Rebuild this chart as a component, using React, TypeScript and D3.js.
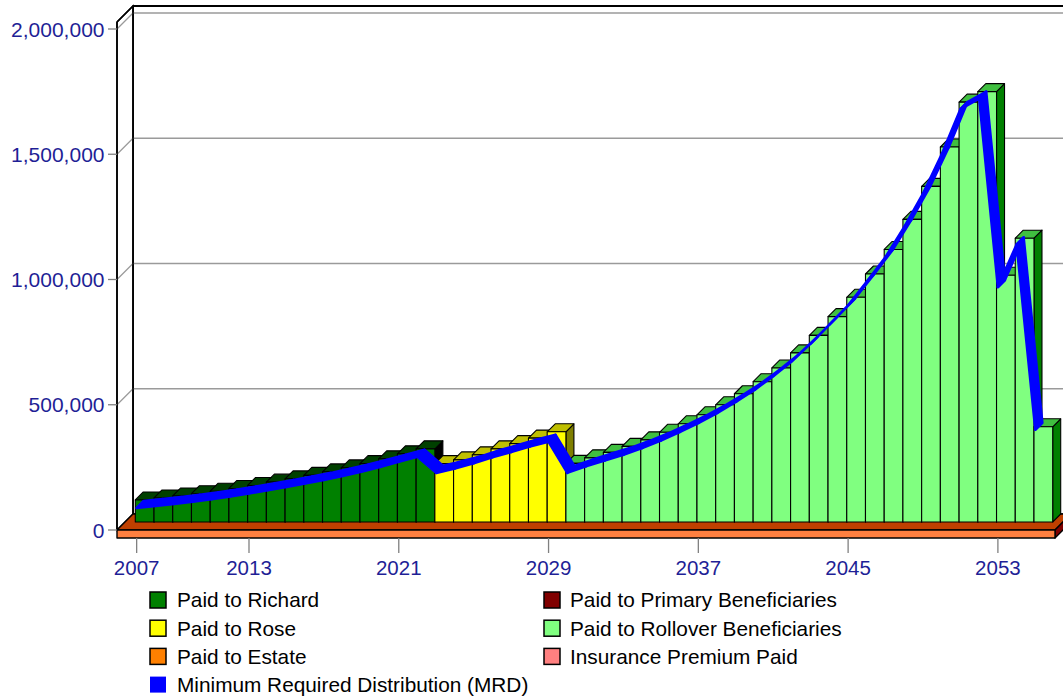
import React from 'react';
import * as d3 from 'd3';

// ---------- data ----------
const years: number[] = d3.range(2007, 2056);

const richardStart = 2007;
const paidRichard = [88000, 96000, 104000, 113000, 123000, 134000, 146000, 159000, 172000, 186000, 200000, 216000, 233000, 252000, 272000, 292000];

const roseStart = 2023;
const paidRose = [233000, 248000, 268000, 292000, 313000, 335000, 360000];

const rolloverStart = 2030;
const paidRollover = [234000, 256000, 278000, 302000, 328000, 358000, 392000, 428000, 468000, 512000, 560000, 615000, 675000, 745000, 820000, 897000, 990000, 1088000, 1208000, 1340000, 1497000, 1676000, 1718000, 985000, 1133000, 380000];

const mrdValues = [
  88000, 96000, 104000, 113000, 123000, 134000, 146000, 159000, 172000, 186000, 200000, 216000, 233000, 252000, 272000, 292000,
  228000, 246000, 266000, 290000, 311000, 333000, 352000,
  228000, 254000, 277000, 300000, 327000, 357000, 391000, 427000, 467000, 511000, 559000, 614000, 674000, 744000, 820000, 897000, 992000, 1090000, 1210000, 1343000, 1500000, 1680000, 1722000, 970000, 1140000, 400000,
];

const xTickYears = [2007, 2013, 2021, 2029, 2037, 2045, 2053];
const yTicks = [0, 500000, 1000000, 1500000, 2000000];

const seriesKeys = ['richard', 'rose', 'rollover'];
const seriesColors: Record<string, string> = { richard: '#008000', rose: '#ffff00', rollover: '#80ff80' };

const legendCol1 = [
  { label: 'Paid to Richard', color: '#008000', border: true },
  { label: 'Paid to Rose', color: '#ffff00', border: true },
  { label: 'Paid to Estate', color: '#ff8000', border: true },
  { label: 'Minimum Required Distribution (MRD)', color: '#0000ff', border: false },
];
const legendCol2 = [
  { label: 'Paid to Primary Beneficiaries', color: '#800000', border: true },
  { label: 'Paid to Rollover Beneficiaries', color: '#80ff80', border: true },
  { label: 'Insurance Premium Paid', color: '#ff8080', border: true },
];

// ---------- helpers ----------
function valueAt(arr: number[], start: number, yr: number) {
  const i = yr - start;
  return i >= 0 && i < arr.length ? arr[i] : 0;
}
function shade(hex: string, amt: number) {
  const c = d3.rgb(hex);
  return d3.rgb(Math.max(0, c.r - amt), Math.max(0, c.g - amt), Math.max(0, c.b - amt)).formatHex();
}
const pts = (p: number[][]) => p.map((q) => q.join(',')).join(' ');

const FONT = '"Liberation Sans", Arial, sans-serif';
const AXIS_COLOR = '#1f1f96';

export default function App() {
  const W = 1063, H = 698;
  const D = 16; // wall depth
  const B0 = 8, B1 = 16; // bar depth span
  const RIB = 7; // MRD ribbon depth
  const floorH = 8;

  const x = d3.scaleBand<number>().domain(years).range([117, 1055]).paddingInner(0).paddingOuter(0.55);
  const y = d3.scaleLinear().domain([0, 2000000]).range([530, 29]);
  const bw = x.bandwidth();
  const [fx0, fx1] = x.range();
  const y0 = y(0);
  const yTop = y(2000000) - 7;

  const table = years.map((yr) => ({
    year: yr,
    richard: valueAt(paidRichard, richardStart, yr),
    rose: valueAt(paidRose, roseStart, yr),
    rollover: valueAt(paidRollover, rolloverStart, yr),
  }));
  const stacked = d3.stack<any>().keys(seriesKeys)(table);

  const bars: JSX.Element[] = [];
  years.forEach((yr, i) => {
    stacked.forEach((layer) => {
      const [v0, v1] = layer[i];
      if (v1 - v0 <= 0) return;
      const col = seriesColors[layer.key];
      const xl = (x(yr) as number) + B0;
      const xr = xl + bw;
      const yt = y(v1) - B0;
      const yb = y(v0) - B0;
      const dd = B1 - B0;
      bars.push(
        <g key={`${yr}-${layer.key}`} stroke="#000" strokeWidth={1.1} strokeLinejoin="round">
          <polygon points={pts([[xr, yt], [xr + dd, yt - dd], [xr + dd, yb - dd], [xr, yb]])} fill={shade(col, 128)} />
          <polygon points={pts([[xl, yt], [xr, yt], [xr + dd, yt - dd], [xl + dd, yt - dd]])} fill={shade(col, 64)} />
          <rect x={xl} y={yt} width={bw} height={yb - yt} fill={col} />
        </g>
      );
    });
  });

  // MRD ribbon
  const mp = years.map((yr, i) => [(x(yr) as number) + bw / 2, y(mrdValues[i])]);
  const ribbon: JSX.Element[] = [];
  for (let i = 0; i < mp.length - 1; i++) {
    const a = mp[i], b = mp[i + 1];
    ribbon.push(
      <polygon
        key={i}
        points={pts([a, b, [b[0] + RIB, b[1] - RIB], [a[0] + RIB, a[1] - RIB]])}
        fill="#0000ff"
        stroke="#0000ff"
        strokeWidth={2.6}
        strokeLinejoin="round"
      />
    );
  }

  const legendRow = (items: typeof legendCol1, sx: number, tx: number) =>
    items.map((it, i) => {
      const cy = 600 + i * 28.2;
      return (
        <g key={it.label}>
          <rect x={sx} y={cy - 8} width={16} height={16} fill={it.color} stroke={it.border ? '#000' : 'none'} strokeWidth={1.5} />
          <text x={tx} y={cy + 7.3} fontFamily={FONT} fontSize={20.8} fill="#000">{it.label}</text>
        </g>
      );
    });

  return (
    <svg width={W} height={H} style={{ position: 'absolute', left: 0, top: 0, background: '#fff' }}>
      <rect x={0} y={0} width={W} height={H} fill="#fff" />
      {/* back wall */}
      <rect x={fx0 + D} y={yTop - D} width={fx1 - fx0} height={y0 - yTop} fill="#fff" stroke="#000" strokeWidth={1.5} />
      {/* left wall */}
      <polygon points={pts([[fx0, yTop], [fx0 + D, yTop - D], [fx0 + D, y0 - D], [fx0, y0]])} fill="#fff" stroke="#000" strokeWidth={1.5} />
      {/* grid lines */}
      {yTicks.filter((t) => t > 0).map((t) => (
        <g key={t} stroke="#9a9a9a" strokeWidth={1.3} fill="none">
          <line x1={fx0} y1={y(t)} x2={fx0 + D} y2={y(t) - D} />
          <line x1={fx0 + D} y1={y(t) - D} x2={fx1 + D} y2={y(t) - D} />
        </g>
      ))}
      {/* wall edges */}
      <line x1={fx0 + D} y1={yTop - D} x2={fx0 + D} y2={y0 - D} stroke="#000" strokeWidth={1.6} />
      <line x1={fx0} y1={yTop} x2={fx0} y2={y0} stroke="#000" strokeWidth={1.6} />
      <line x1={fx0} y1={yTop} x2={fx0 + D} y2={yTop - D} stroke="#000" strokeWidth={1.6} />
      <line x1={fx0 + D} y1={yTop - D} x2={fx1 + D} y2={yTop - D} stroke="#000" strokeWidth={1.8} />

      {/* floor */}
      <g stroke="#000" strokeWidth={1.4} strokeLinejoin="round">
        <polygon points={pts([[fx0, y0], [fx1, y0], [fx1 + D, y0 - D], [fx0 + D, y0 - D]])} fill={shade('#ff8040', 64)} />
        <polygon points={pts([[fx1, y0], [fx1 + D, y0 - D], [fx1 + D, y0 - D + floorH], [fx1, y0 + floorH]])} fill={shade('#ff8040', 128)} />
        <rect x={fx0} y={y0} width={fx1 - fx0} height={floorH} fill="#ff8040" />
      </g>

      {bars}
      {ribbon}

      {/* y axis */}
      {yTicks.map((t) => (
        <g key={t}>
          <line x1={fx0 - 9} y1={y(t)} x2={fx0} y2={y(t)} stroke="#808080" strokeWidth={1.3} />
          <text x={fx0 - 12.5} y={y(t) + 7.5} textAnchor="end" fontFamily={FONT} fontSize={21} fill={AXIS_COLOR}>
            {d3.format(',')(t)}
          </text>
        </g>
      ))}
      {/* x axis */}
      {xTickYears.map((yr) => {
        const cx = (x(yr) as number) + bw / 2;
        return (
          <g key={yr}>
            <line x1={cx} y1={y0 + floorH} x2={cx} y2={y0 + floorH + 15} stroke="#808080" strokeWidth={1.3} />
            <text x={cx} y={575} textAnchor="middle" fontFamily={FONT} fontSize={20.5} fill={AXIS_COLOR}>{yr}</text>
          </g>
        );
      })}

      {/* legend */}
      {legendRow(legendCol1, 150, 177)}
      {legendRow(legendCol2, 544, 570)}
    </svg>
  );
}
